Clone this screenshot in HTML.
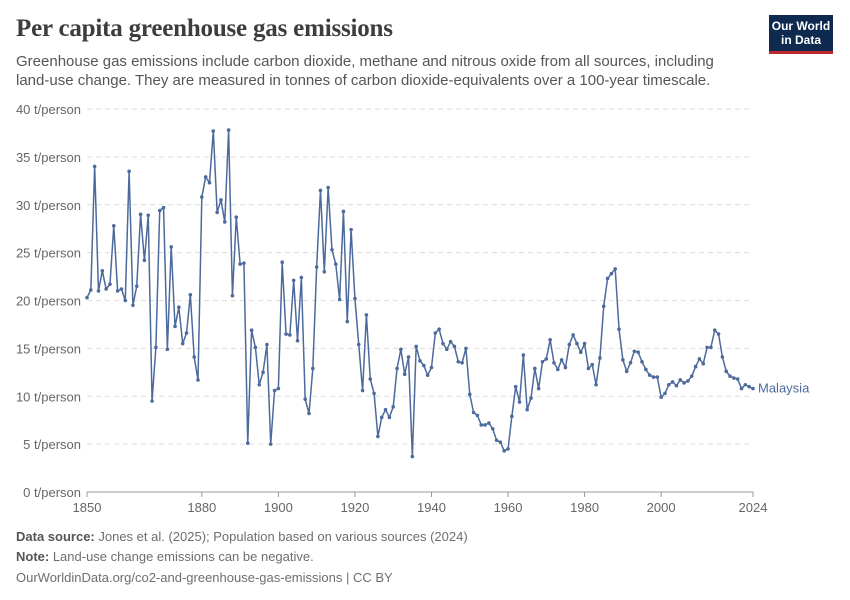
<!DOCTYPE html>
<html><head><meta charset="utf-8"><style>
body{margin:0;background:#fff;font-family:"Liberation Sans",sans-serif;}
#wrap{position:relative;width:850px;height:600px;overflow:hidden}
h1{position:absolute;left:16px;top:15px;margin:0;font-family:"Liberation Serif",serif;font-weight:bold;font-size:25px;color:#3d3d3d;letter-spacing:-0.2px}
.sub{position:absolute;left:16px;top:52px;font-size:15px;line-height:19px;color:#555;width:720px}
.logo{position:absolute;left:769px;top:15px;width:64px;height:39px;background:#0e2a4f;border-bottom:3px solid #c0272d;color:#fff;font-size:12px;font-weight:bold;line-height:14px;text-align:center;padding-top:4px;box-sizing:border-box}
.foot{position:absolute;left:16px;font-size:13px;color:#6e6e6e}
.foot b{color:#555}
</style></head><body><div id="wrap">
<h1>Per capita greenhouse gas emissions</h1>
<div class="sub">Greenhouse gas emissions include carbon dioxide, methane and nitrous oxide from all sources, including land-use change. They are measured in tonnes of carbon dioxide-equivalents over a 100-year timescale.</div>
<div class="logo">Our World<br>in Data</div>
<svg id="chart" width="850" height="600" style="position:absolute;left:0;top:0"></svg>
<div class="foot" style="top:529px"><b>Data source:</b> Jones et al. (2025); Population based on various sources (2024)</div>
<div class="foot" style="top:549px"><b>Note:</b> Land-use change emissions can be negative.</div>
<div class="foot" style="top:570px">OurWorldinData.org/co2-and-greenhouse-gas-emissions | CC BY</div>
</div>
<script>
const startYear = 1850;
const values = [20.3,21.1,34.0,21.0,23.1,21.2,21.7,27.8,21.0,21.2,20.0,33.5,19.5,21.5,29.0,24.2,28.9,9.5,15.1,29.4,29.7,14.9,25.6,17.3,19.3,15.5,16.6,20.6,14.1,11.7,
30.8,32.9,32.3,37.7,29.2,30.5,28.2,37.8,20.5,28.7,23.8,23.9,5.1,16.9,15.1,11.2,12.5,15.4,5.0,10.6,
10.8,24.0,16.5,16.4,22.1,15.8,22.4,9.7,8.2,12.9,23.5,31.5,23.0,31.8,25.3,23.8,20.1,29.3,17.8,27.4,
20.2,15.4,10.6,18.5,11.8,10.3,5.8,7.8,8.6,7.8,8.9,12.9,14.9,12.3,14.1,3.7,15.2,13.7,13.2,12.2,
13.0,16.6,17.0,15.5,14.9,15.7,15.2,13.6,13.5,15.0,10.2,8.3,8.0,7.0,7.0,7.2,6.6,5.4,5.2,4.3,
4.5,7.9,11.0,9.4,14.3,8.6,9.8,12.9,10.8,13.6,13.9,15.9,13.5,12.8,13.8,13.0,15.4,16.4,15.5,14.6,
15.5,12.9,13.3,11.2,14.0,19.4,22.3,22.8,23.3,17.0,13.8,12.6,13.5,14.7,14.6,13.6,12.8,12.2,12.0,12.0,
9.9,10.3,11.2,11.5,11.1,11.7,11.4,11.6,12.1,13.1,13.9,13.4,15.1,15.1,16.9,16.5,14.1,12.6,12.1,11.9,
11.8,10.8,11.2,11.0,10.8];
const yTicks = [0,5,10,15,20,25,30,35,40];
const xTicks = [1850,1880,1900,1920,1940,1960,1980,2000,2024];
const svg = document.getElementById('chart');
const NS='http://www.w3.org/2000/svg';
const x0=87,x1=753,y0=492,y1=109;
const xs = y => x0+(y-1850)/(2024-1850)*(x1-x0);
const ys = v => y0-(v/40)*(y0-y1);
function mk(t,a){const e=document.createElementNS(NS,t);for(const k in a)e.setAttribute(k,a[k]);svg.appendChild(e);return e;}
yTicks.forEach(t=>{
  const g=mk('line',{x1:x0,x2:x1,y1:ys(t),y2:ys(t),stroke:t===0?'#999':'#ddd','stroke-dasharray':t===0?'':'5,4'});
  
  
  const l=mk('text',{x:81,y:ys(t)+5,'text-anchor':'end','font-size':13,fill:'#666','font-family':'Liberation Sans, sans-serif'});
  l.textContent=t+' t/person';
  
  
});
xTicks.forEach(t=>{
  const k=mk('line',{x1:xs(t),x2:xs(t),y1:y0,y2:y0+5,stroke:'#999'});
  
  
  const l=mk('text',{x:xs(t),y:512,'text-anchor':'middle','font-size':13,fill:'#666','font-family':'Liberation Sans, sans-serif'});
  l.textContent=t;
  
  
});
const pts=values.map((v,i)=>[xs(startYear+i),ys(v)]);
const line=mk('polyline',{points:pts.map(p=>p.join(',')).join(' '),fill:'none',stroke:'#4c6a9c','stroke-width':1.5,'stroke-linejoin':'round'});


pts.forEach(p=>{
  const c=mk('circle',{cx:p[0],cy:p[1],r:1.8,fill:'#4c6a9c'});
  
  
});
const last=pts[pts.length-1];
const lab=mk('text',{x:last[0]+5,y:last[1]+4,'font-size':13,fill:'#4c6a9c','font-family':'Liberation Sans, sans-serif'});
lab.textContent='Malaysia';


</script></body></html>
